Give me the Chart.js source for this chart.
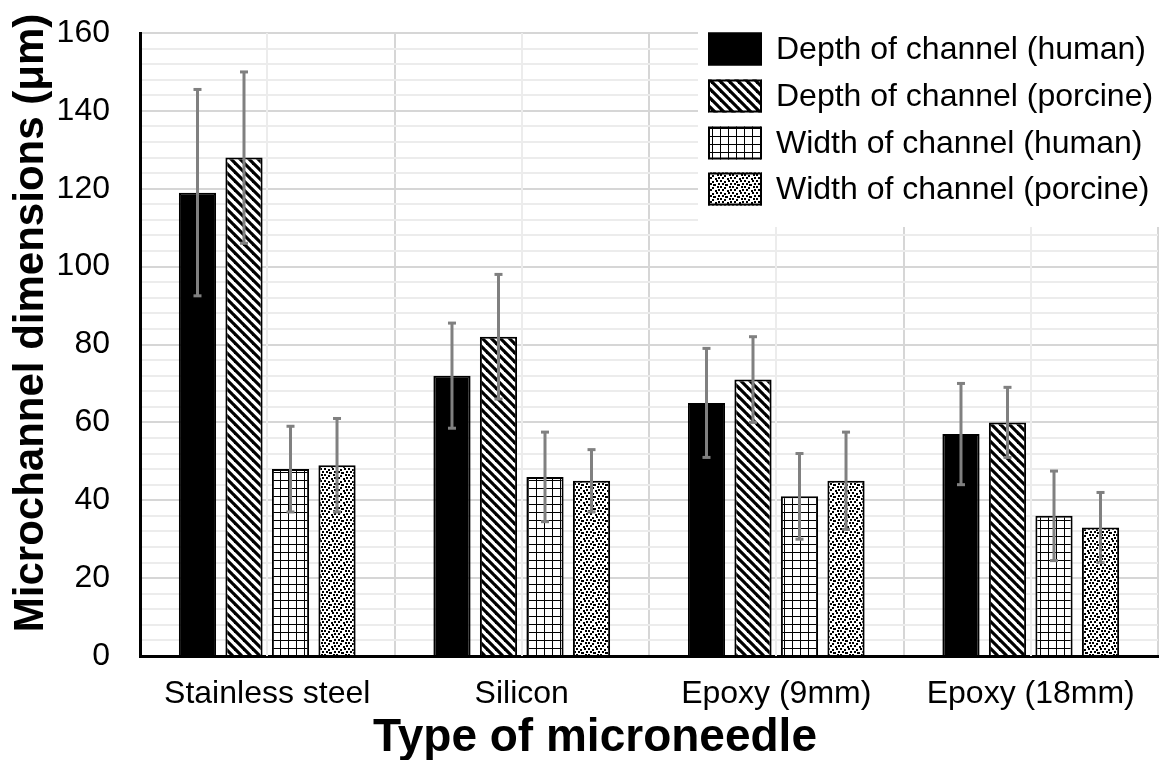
<!DOCTYPE html>
<html><head><meta charset="utf-8">
<script src="https://cdn.jsdelivr.net/npm/chart.js@4.4.1/dist/chart.umd.min.js"></script>
<style>html,body{margin:0;padding:0;background:#fff}#wrap{width:1160px;height:760px;position:relative}</style>
</head><body><div id="wrap"><canvas id="c"></canvas></div>
<script>
const categories = ['Stainless steel', 'Silicon', 'Epoxy (9mm)', 'Epoxy (18mm)'];
const seriesLabels = ['Depth of channel (human)', 'Depth of channel (porcine)', 'Width of channel (human)', 'Width of channel (porcine)'];
const depthHuman = [119, 72, 65, 57];
const depthHumanErr = [26.5, 13.5, 14, 13];
const depthPorcine = [128, 82, 71, 60];
const depthPorcineErr = [22, 16, 11, 9];
const widthHuman = [48, 46, 41, 36];
const widthHumanErr = [11, 11.5, 11, 11.5];
const widthPorcine = [49, 45, 45, 33];
const widthPorcineErr = [12, 8, 12.5, 9];
const yMajorTicks = [0, 20, 40, 60, 80, 100, 120, 140, 160];
const xTitle = 'Type of microneedle';
const yTitle = 'Microchannel dimensions (\u03bcm)';

const FONT = "'Liberation Sans', Arial, sans-serif";

function makePattern(kind) {
  if (kind === 'solid') return '#000000';
  const c = document.createElement('canvas');
  const g = c.getContext('2d');
  let s;
  if (kind === 'diag') {
    s = 9; c.width = s; c.height = s;
    g.fillStyle = '#fff'; g.fillRect(0, 0, s, s);
    g.strokeStyle = '#000'; g.lineWidth = 3.2;
    for (let k = -1; k <= 1; k++) {
      g.beginPath(); g.moveTo(-3, -3 + k * s); g.lineTo(s + 3, s + 3 + k * s); g.stroke();
    }
  } else if (kind === 'grid') {
    s = 8; c.width = s; c.height = s;
    g.fillStyle = '#fff'; g.fillRect(0, 0, s, s);
    g.fillStyle = '#000'; g.fillRect(0, 0, s, 1); g.fillRect(0, 0, 1, s);
  } else {
    s = 12; c.width = s; c.height = s;
    g.fillStyle = '#fff'; g.fillRect(0, 0, s, s);
    g.fillStyle = '#000';
    const dots = [[0,0],[4,1],[8,0],[2,3],[6,4],[10,3],[0,6],[4,7],[9,6],[2,9],[7,10],[10,9],[5,4]];
    dots.forEach(d => g.fillRect(d[0], d[1], 2, 2));
  }
  return g.createPattern(c, 'repeat');
}

const fills = [makePattern('solid'), makePattern('diag'), makePattern('grid'), makePattern('dots')];
const values = [depthHuman, depthPorcine, widthHuman, widthPorcine];
const errors = [depthHumanErr, depthPorcineErr, widthHumanErr, widthPorcineErr];

const datasets = values.map((v, i) => ({
  label: seriesLabels[i],
  data: v,
  errors: errors[i],
  backgroundColor: fills[i],
  borderColor: '#000',
  borderWidth: 2,
  barPercentage: 0.8,
  categoryPercentage: 0.731
}));

const decorPlugin = {
  id: 'decor',
  beforeDatasetsDraw(chart) {
    const {ctx, chartArea, scales} = chart;
    ctx.save();
    ctx.strokeStyle = '#ececec'; ctx.lineWidth = 2;
    categories.forEach((c, i) => {
      const x = Math.round(scales.x.getPixelForValue(i));
      ctx.beginPath(); ctx.moveTo(x, chartArea.top); ctx.lineTo(x, chartArea.bottom); ctx.stroke();
    });
    ctx.restore();
  },
  afterDatasetsDraw(chart) {
    const {ctx, chartArea, scales} = chart;
    ctx.save();
    // error bars
    ctx.strokeStyle = '#808080'; ctx.fillStyle = '#808080'; ctx.lineWidth = 3;
    chart.data.datasets.forEach((ds, i) => {
      const meta = chart.getDatasetMeta(i);
      meta.data.forEach((el, j) => {
        const v = ds.data[j], e = ds.errors[j];
        const yt = scales.y.getPixelForValue(v + e), yb = scales.y.getPixelForValue(v - e);
        const x = el.x;
        ctx.beginPath(); ctx.moveTo(x, yt); ctx.lineTo(x, yb); ctx.stroke();
        ctx.fillRect(x - 4, yt - 1.5, 8, 3);
        ctx.fillRect(x - 4, yb - 1.5, 8, 3);
      });
    });
    // legend
    ctx.fillStyle = '#fff';
    ctx.fillRect(698, 0, 1160 - 698, 227);
    const rows = [49, 96, 143, 189];
    ctx.font = '32px ' + FONT;
    ctx.textBaseline = 'middle'; ctx.textAlign = 'left';
    chart.data.datasets.forEach((ds, i) => {
      const cy = rows[i];
      ctx.fillStyle = ds.backgroundColor;
      ctx.fillRect(708, cy - 16.5, 54, 33);
      ctx.strokeStyle = '#000'; ctx.lineWidth = 2;
      ctx.strokeRect(709, cy - 15.5, 52, 31);
      ctx.fillStyle = '#000';
      ctx.fillText(ds.label, 776, cy + 1);
    });
    // axis titles
    ctx.font = 'bold 46px ' + FONT;
    ctx.textAlign = 'center'; ctx.textBaseline = 'middle';
    ctx.fillText(xTitle, 595, 738);
    ctx.save();
    ctx.translate(31, 323);
    ctx.rotate(-Math.PI / 2);
    ctx.font = 'bold 42px ' + FONT;
    ctx.fillText(yTitle, 0, 0);
    ctx.restore();
    ctx.restore();
  }
};

new Chart(document.getElementById('c'), {
  type: 'bar',
  data: { labels: categories, datasets },
  options: {
    responsive: true,
    maintainAspectRatio: false,
    animation: false,
    devicePixelRatio: 1,
    events: [],
    layout: { padding: { top: 33, right: 2, left: 0, bottom: 0 } },
    plugins: { legend: { display: false }, tooltip: { enabled: false } },
    scales: {
      x: {
        grid: { offset: true, color: '#d6d6d6', lineWidth: 2, drawTicks: false },
        border: { display: true, color: '#000', width: 3 },
        ticks: { color: '#000', font: { family: FONT, size: 32 }, padding: 19, maxRotation: 0 },
        afterFit(s) { s.height = 104; }
      },
      y: {
        min: 0, max: 160,
        grid: {
          drawTicks: true, tickLength: 30, tickColor: 'rgba(0,0,0,0)', lineWidth: 2,
          color: c => (c.tick && yMajorTicks.includes(c.tick.value)) ? '#d6d6d6' : '#ececec'
        },
        border: { display: true, color: '#000', width: 3 },
        ticks: {
          stepSize: 4, autoSkip: false, color: '#000', padding: 0,
          font: { family: FONT, size: 32 },
          callback: v => yMajorTicks.includes(v) ? String(v) : ''
        },
        afterFit(s) { s.width = 140; }
      }
    }
  },
  plugins: [decorPlugin]
});
</script>
</body></html>
